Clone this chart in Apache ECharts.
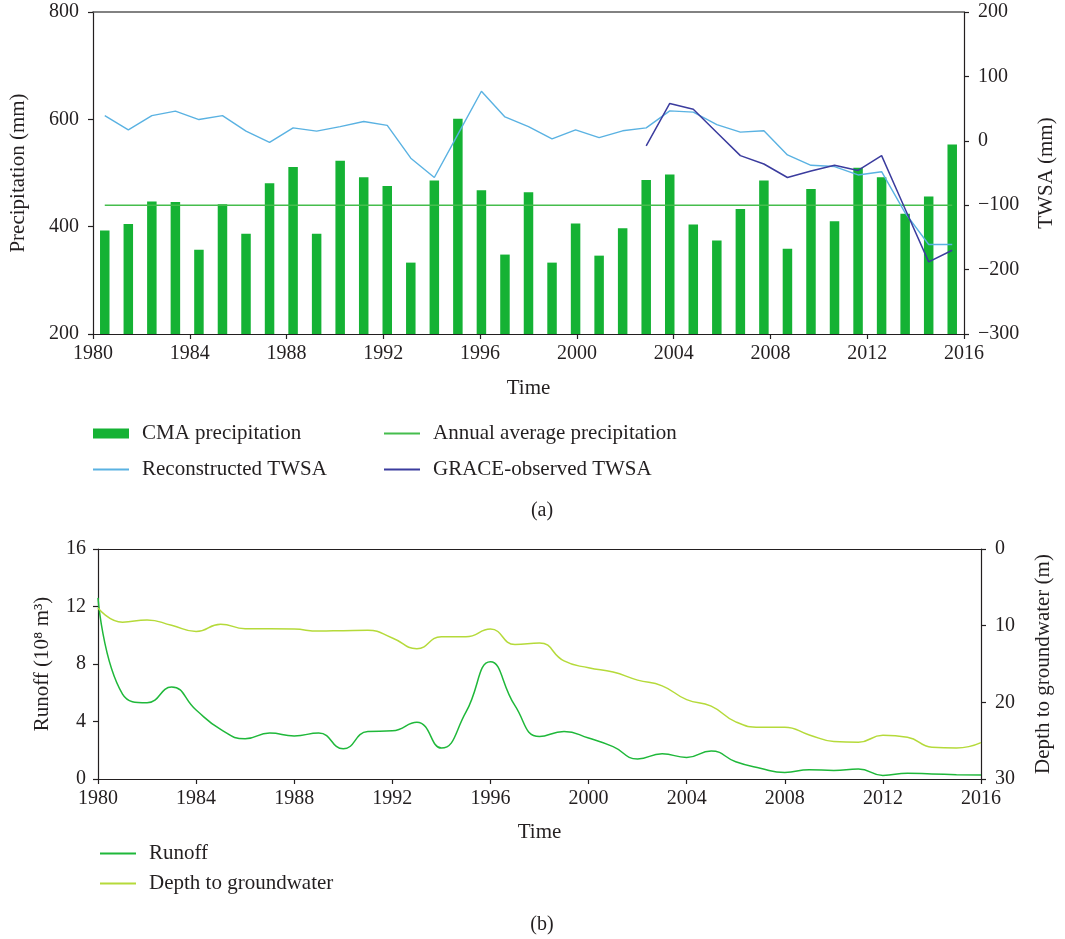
<!DOCTYPE html>
<html>
<head>
<meta charset="utf-8">
<script src="https://cdn.jsdelivr.net/npm/echarts@6/dist/echarts.min.js"></script>
<style>
  html, body { margin: 0; padding: 0; background: #ffffff; }
  #chart { width: 1065px; height: 939px; }
</style>
</head>
<body>
<div id="chart"></div>
<script>
// Years of record (categories and tick labels)
const years = [1980, 1981, 1982, 1983, 1984, 1985, 1986, 1987, 1988, 1989,
               1990, 1991, 1992, 1993, 1994, 1995, 1996, 1997, 1998, 1999,
               2000, 2001, 2002, 2003, 2004, 2005, 2006, 2007, 2008, 2009,
               2010, 2011, 2012, 2013, 2014, 2015, 2016];

// (a) annual precipitation, mm
const precipitation = [393, 405, 447, 446, 357, 442, 387, 481, 511, 387,
                       523, 492, 476, 333, 486, 601, 468, 348, 464, 333,
                       406, 346, 397, 487, 497, 404, 374, 433, 486, 359,
                       470, 410, 510, 492, 424, 456, 553];

// (a) reconstructed terrestrial water storage anomaly, mm
const reconstructedTWSA = [39, 17, 39, 46, 33, 39, 15, -2.5, 20, 15,
                           22, 30, 24, -27, -57, 10, 77, 37, 22, 3,
                           17, 5, 15.5, 20, 46.5, 44.5, 25, 13.5, 15.5, -22,
                           -38, -40, -53, -48, -112, -161, -161];

// (a) GRACE-observed TWSA, mm (available from 2003)
const graceTWSA = [null, null, null, null, null, null, null, null, null, null,
                   null, null, null, null, null, null, null, null, null, null,
                   null, null, null, -8, 58, 49, 13, -23, -36, -57,
                   -47, -38, -46, -23, -106, -188, -170];

// (b) runoff, 10^8 m^3
const runoff = [12.6, 5.9, 5.3, 6.4, 4.8, 3.45, 2.8, 3.2, 3.0, 3.2,
                2.1, 3.3, 3.35, 3.95, 2.15, 4.65, 8.15, 5.1, 2.95, 3.3,
                2.85, 2.25, 1.4, 1.75, 1.5, 1.95, 1.2, 0.75, 0.45, 0.65,
                0.6, 0.7, 0.25, 0.4, 0.35, 0.3, 0.27];

// (b) depth to groundwater, m
const depthToGroundwater = [7.7, 9.55, 9.25, 9.95, 10.75, 9.8, 10.4, 10.4, 10.45, 10.7,
                            10.65, 10.6, 11.6, 13.0, 11.45, 11.45, 10.45, 12.45, 12.25, 14.6,
                            15.5, 16.05, 17.1, 17.85, 19.65, 20.5, 22.55, 23.25, 23.25, 24.25,
                            25.1, 25.2, 24.3, 24.55, 25.85, 25.95, 25.25];

const avgPrecip = precipitation.reduce((s, v) => s + v, 0) / precipitation.length;

const FONT = 'Liberation Serif';
const INK = '#231f20';
const minus = v => String(v).replace('-', '\u2212');
const plain = v => String(v);

const axisLine = { show: true, onZero: false, lineStyle: { color: INK, width: 1.2 } };
const axisTick = { show: true, inside: false, length: 5, lineStyle: { color: INK, width: 1.2 } };
const tickText = { fontSize: 20, color: INK, fontFamily: FONT };
const nameText = { fontSize: 21, color: INK, fontFamily: FONT };

function legendItem(name, left, top, icon, h) {
  return {
    data: [name], left: left, top: top, padding: 0,
    icon: icon, itemWidth: 36, itemHeight: h, selectedMode: false,
    textStyle: { fontSize: 21, color: INK, fontFamily: FONT, padding: [0, 0, 0, 8] }
  };
}

const chart = echarts.init(document.getElementById('chart'), null, { renderer: 'canvas' });

chart.setOption({
  animation: false,
  backgroundColor: '#ffffff',
  textStyle: { fontFamily: FONT },
  title: [
    { text: '(a)', left: 537, top: 496, textAlign: 'center',
      textStyle: { fontSize: 20, fontWeight: 'normal', color: INK, fontFamily: FONT } },
    { text: '(b)', left: 537, top: 910, textAlign: 'center',
      textStyle: { fontSize: 20, fontWeight: 'normal', color: INK, fontFamily: FONT } }
  ],
  legend: [
    legendItem('CMA precipitation', 93, 423, 'rect', 10),
    legendItem('Annual average precipitation', 384, 423, 'rect', 2),
    legendItem('Reconstructed TWSA', 93, 459, 'rect', 2),
    legendItem('GRACE-observed TWSA', 384, 459, 'rect', 2),
    legendItem('Runoff', 100, 843, 'rect', 2),
    legendItem('Depth to groundwater', 100, 873, 'rect', 2)
  ],
  grid: [
    { left: 93, top: 12, width: 877, height: 322 },
    { left: 98, top: 549, width: 883, height: 230 }
  ],
  xAxis: [
    { gridIndex: 0, type: 'value', min: 1980, max: 2016, interval: 4, position: 'bottom',
      axisLine: axisLine, axisTick: axisTick, splitLine: { show: false },
      axisLabel: Object.assign({ margin: 10, formatter: plain }, tickText),
      name: 'Time', nameLocation: 'middle', nameGap: 44, nameTextStyle: nameText },
    { gridIndex: 0, type: 'category', data: years, position: 'top', boundaryGap: true,
      axisLine: { show: true, onZero: false, lineStyle: { color: '#5a5a5a', width: 1.6 } },
      axisTick: { show: false }, axisLabel: { show: false }, splitLine: { show: false } },
    { gridIndex: 1, type: 'value', min: 1980, max: 2016, interval: 4, position: 'bottom',
      axisLine: axisLine, axisTick: axisTick, splitLine: { show: false },
      axisLabel: Object.assign({ margin: 10, formatter: plain }, tickText),
      name: 'Time', nameLocation: 'middle', nameGap: 43, nameTextStyle: nameText },
    { gridIndex: 1, type: 'value', min: 1980, max: 2016, position: 'top',
      axisLine: axisLine, axisTick: { show: false }, axisLabel: { show: false },
      splitLine: { show: false } }
  ],
  yAxis: [
    { gridIndex: 0, type: 'value', min: 200, max: 800, interval: 200, position: 'left',
      axisLine: axisLine, axisTick: axisTick, splitLine: { show: false },
      axisLabel: Object.assign({ margin: 14 }, tickText),
      name: 'Precipitation (mm)', nameLocation: 'middle', nameRotate: 90, nameGap: 64,
      nameTextStyle: nameText },
    { gridIndex: 0, type: 'value', min: -300, max: 200, interval: 100, position: 'right',
      axisLine: axisLine, axisTick: axisTick, splitLine: { show: false },
      axisLabel: Object.assign({ margin: 14, formatter: minus }, tickText),
      name: 'TWSA (mm)', nameLocation: 'middle', nameRotate: 90, nameGap: 72,
      nameTextStyle: nameText },
    { gridIndex: 1, type: 'value', min: 0, max: 16, interval: 4, position: 'left',
      axisLine: axisLine, axisTick: axisTick, splitLine: { show: false },
      axisLabel: Object.assign({ margin: 12 }, tickText),
      name: 'Runoff (10\u2078 m\u00b3)', nameLocation: 'middle', nameRotate: 90, nameGap: 45,
      nameTextStyle: nameText },
    { gridIndex: 1, type: 'value', min: 0, max: 30, interval: 10, inverse: true, position: 'right',
      axisLine: axisLine, axisTick: axisTick, splitLine: { show: false },
      axisLabel: Object.assign({ margin: 14 }, tickText),
      name: 'Depth to groundwater (m)', nameLocation: 'middle', nameRotate: 90, nameGap: 52,
      nameTextStyle: nameText }
  ],
  series: [
    { name: 'CMA precipitation', type: 'bar', xAxisIndex: 1, yAxisIndex: 0,
      data: precipitation, barWidth: 9.5, itemStyle: { color: '#15b234' } },
    { name: 'Annual average precipitation', type: 'line', xAxisIndex: 1, yAxisIndex: 0,
      data: years.map(() => avgPrecip), symbol: 'none',
      itemStyle: { color: '#45bd4d' }, lineStyle: { color: '#45bd4d', width: 1.5 } },
    { name: 'Reconstructed TWSA', type: 'line', xAxisIndex: 1, yAxisIndex: 1,
      data: reconstructedTWSA, symbol: 'none',
      itemStyle: { color: '#5ab2e2' }, lineStyle: { color: '#5ab2e2', width: 1.4 } },
    { name: 'GRACE-observed TWSA', type: 'line', xAxisIndex: 1, yAxisIndex: 1,
      data: graceTWSA, symbol: 'none', connectNulls: false,
      itemStyle: { color: '#3b3c9e' }, lineStyle: { color: '#3b3c9e', width: 1.5 } },
    { name: 'Runoff', type: 'line', xAxisIndex: 2, yAxisIndex: 2,
      data: years.map((y, i) => [y, runoff[i]]), symbol: 'none', smooth: 0.5,
      itemStyle: { color: '#1fb83a' }, lineStyle: { color: '#1fb83a', width: 1.5 } },
    { name: 'Depth to groundwater', type: 'line', xAxisIndex: 2, yAxisIndex: 3,
      data: years.map((y, i) => [y, depthToGroundwater[i]]), symbol: 'none', smooth: 0.5,
      itemStyle: { color: '#b5da3a' }, lineStyle: { color: '#b5da3a', width: 1.5 } }
  ]
});
</script>
</body>
</html>
